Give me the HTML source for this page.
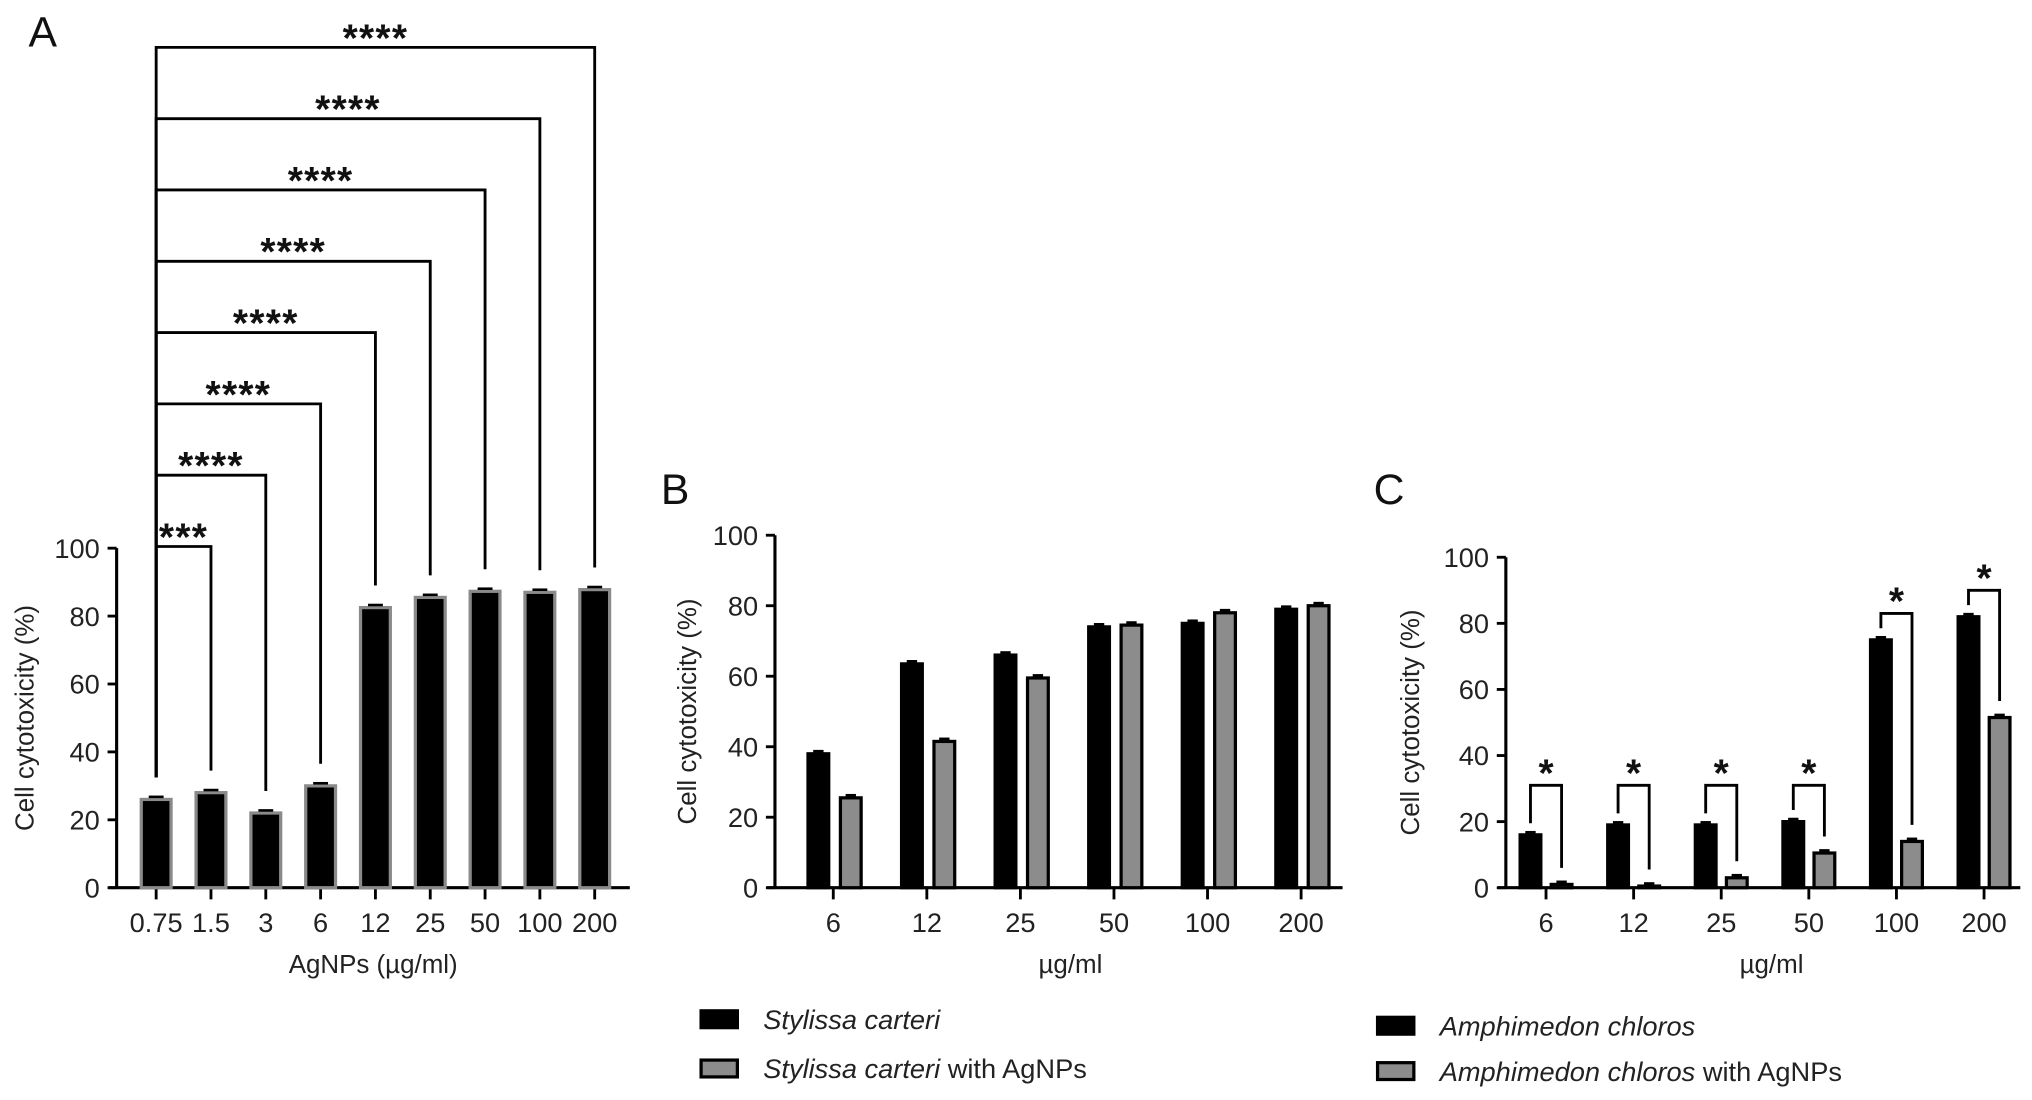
<!DOCTYPE html>
<html><head><meta charset="utf-8"><style>
html,body{margin:0;padding:0;background:#fff;}
svg{display:block;font-family:"Liberation Sans",Arial,sans-serif;}
</style></head><body>
<svg id="fig" width="2032" height="1100" viewBox="0 0 1568 848.8" xmlns="http://www.w3.org/2000/svg"></svg>
<script>
// Panel A data
const catsA = ["0.75","1.5","3","6","12","25","50","100","200"];
const valsA = [26, 28, 22, 30, 82.5, 85.5, 87.3, 87, 87.8];
const sigA = ["***","****","****","****","****","****","****","****"];
// Panel B data
const catsB = ["6","12","25","50","100","200"];
const blackB = [38, 63.5, 66, 74, 75, 79];
const grayB = [25.5, 41.5, 59.5, 74.5, 78, 80];
// Panel C data
const catsC = ["6","12","25","50","100","200"];
const blackC = [16, 19, 19, 20, 75, 82];
const grayC = [1, 0.5, 3, 10.5, 14, 51.5];
const sigC = ["*","*","*","*","*","*"];
const yTicks = [0, 20, 40, 60, 80, 100];

const svg = document.getElementById('fig');
const NS = "http://www.w3.org/2000/svg";
function el(tag, attrs, parent) {
  const e = document.createElementNS(NS, tag);
  for (const k in attrs) e.setAttribute(k, attrs[k]);
  (parent || svg).appendChild(e);
  return e;
}
function txt(s, attrs, parent) { const t = el('text', attrs, parent); t.textContent = s; return t; }

function axes(g, x0, x1, yTop, yBot, ticksX, labels, yTitleX, xTitle, xTitleX) {
  const y = v => yBot - (yBot - yTop) * v / 100;
  const ax = el('line', {x1:x0, y1:yTop, x2:x0, y2:yBot, stroke:'#000','stroke-width':2.4}, g);
   
  const bx = el('line', {x1:x0-6, y1:yBot, x2:x1, y2:yBot, stroke:'#000','stroke-width':2.4}, g);
   
  yTicks.forEach(v => {
    el('line', {x1:x0-7, y1:y(v), x2:x0, y2:y(v), stroke:'#000','stroke-width':2.2}, g);
    const t = txt(String(v), {x:x0-13, y:y(v)+7.5, 'text-anchor':'end','font-size':21, fill:'#222'}, g);
     
  });
  ticksX.forEach((cx, i) => {
    el('line', {x1:cx, y1:yBot, x2:cx, y2:yBot+9, stroke:'#000','stroke-width':2.2}, g);
    const t = txt(labels[i], {x:cx, y:yBot+34, 'text-anchor':'middle','font-size':21, fill:'#222'}, g);
     
  });
  const yt = txt('Cell cytotoxicity (%)', {x:0, y:0, 'text-anchor':'middle','font-size':20, fill:'#222',
    transform:`translate(${yTitleX},${(yTop+yBot)/2}) rotate(-90)`}, g);
   
  const xt = txt(xTitle, {x:xTitleX, y:yBot+66, 'text-anchor':'middle','font-size':20, fill:'#222'}, g);
   
  return y;
}
function bar(g, cx, w, v, yf, yBot, fill, stroke, name) {
  const r = el('rect', {x:cx-w/2, y:yf(v), width:w, height:yBot-yf(v), fill:fill, stroke:stroke, 'stroke-width':2.5}, g);
   
  el('line', {x1:cx-w/4, y1:yf(v)-2, x2:cx+w/4, y2:yf(v)-2, stroke:'#000','stroke-width':2}, g);
}

// ---------- Panel A ----------
const gA = el('g', {});  
const lA = txt('A', {x:22, y:36, 'font-size':33, fill:'#111'}, gA);
 
const ax0 = 90, ax1 = 486, aTop = 423, aBot = 685;
const step = 42.3, first = 120.5;
const tA = catsA.map((c, i) => first + i * step);
const yA = axes(gA, ax0, ax1, aTop, aBot, tA, catsA, 26, 'AgNPs (µg/ml)', 288);
valsA.forEach((v, i) => bar(gA, tA[i], 23, v, yA, aBot, '#000', '#8a8a8a', 'bar-a-' + catsA[i]));
sigA.forEach((s, k) => {
  const j = k + 1;
  const topV = 100.5 + 21 * k;
  const yt = yA(topV);
  const p = el('path', {d:`M${tA[0]},${yA(valsA[0]+6.5)} V${yt} H${tA[j]} V${yA(valsA[j]+6.5)}`, fill:'none', stroke:'#000','stroke-width':2.2}, gA);
   
  const st = txt(s, {x:(tA[0]+tA[j])/2, y:yt+3, 'text-anchor':'middle','font-size':30,'font-weight':'bold','letter-spacing':'1', fill:'#111'}, gA);
   
});

// ---------- Panel B ----------
const gB = el('g', {});  
const lB = txt('B', {x:510, y:389, 'font-size':33, fill:'#111'}, gB);
 
const bx0 = 598, bx1 = 1036, bTop = 413, bBot = 685;
const tB = catsB.map((c, i) => 643 + i * 72.2);
const yB = axes(gB, bx0, bx1, bTop, bBot, tB, catsB, 537, 'µg/ml', 826);
blackB.forEach((v, i) => bar(gB, tB[i]-11.5, 16, v, yB, bBot, '#000', '#000', 'bar-b-black-' + catsB[i]));
grayB.forEach((v, i) => bar(gB, tB[i]+13.5, 16, v, yB, bBot, '#8c8c8c', '#000', 'bar-b-gray-' + catsB[i]));

// ---------- Panel C ----------
const gC = el('g', {});  
const lC = txt('C', {x:1060, y:389, 'font-size':33, fill:'#111'}, gC);
 
const cx0 = 1162, cx1 = 1559, cTop = 430, cBot = 685;
const tC = catsC.map((c, i) => 1193 + i * 67.6);
const yC = axes(gC, cx0, cx1, cTop, cBot, tC, catsC, 1095, 'µg/ml', 1367);
blackC.forEach((v, i) => bar(gC, tC[i]-12, 16, v, yC, cBot, '#000', '#000', 'bar-c-black-' + catsC[i]));
grayC.forEach((v, i) => bar(gC, tC[i]+12, 16, v, yC, cBot, '#8c8c8c', '#000', 'bar-c-gray-' + catsC[i]));
sigC.forEach((s, i) => {
  const top = Math.max(31, blackC[i] + 8);
  const yt = yC(top);
  const p = el('path', {d:`M${tC[i]-12},${yC(blackC[i]+3.5)} V${yt} H${tC[i]+12} V${yC(grayC[i]+5)}`, fill:'none', stroke:'#000','stroke-width':2.2}, gC);
   
  const st = txt(s, {x:tC[i], y:yt+1, 'text-anchor':'middle','font-size':30,'font-weight':'bold', fill:'#111'}, gC);
   
});

// ---------- Legends ----------
function legend(x, y, fill, italic, rest, name) {
  const g = el('g', {});  
  el('rect', {x:x, y:y-7, width:28, height:13, fill:fill, stroke:'#000','stroke-width':2.5}, g);
  const t = el('text', {x:x+48, y:y+7, 'font-size':21, fill:'#222'}, g);
  const i1 = el('tspan', {'font-style':'italic'}, t); i1.textContent = italic;
  if (rest) { const r = el('tspan', {}, t); r.textContent = rest; }
}
legend(541, 787, '#000', 'Stylissa carteri', '', 'legend-entry-stylissa');
legend(541, 825, '#8c8c8c', 'Stylissa carteri', ' with AgNPs', 'legend-entry-stylissa-agnps');
legend(1063, 792, '#000', 'Amphimedon chloros', '', 'legend-entry-amphimedon');
legend(1063, 827, '#8c8c8c', 'Amphimedon chloros', ' with AgNPs', 'legend-entry-amphimedon-agnps');
</script>
</body></html>
